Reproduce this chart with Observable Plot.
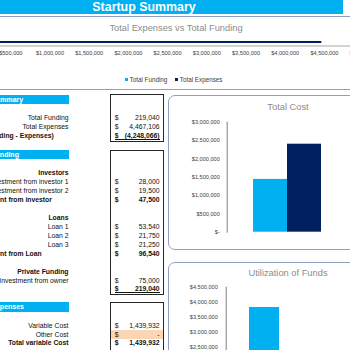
<!DOCTYPE html>
<html><head><meta charset="utf-8">
<script src="https://cdn.jsdelivr.net/npm/d3@7"></script>
<script src="https://cdn.jsdelivr.net/npm/@observablehq/plot@0.6"></script>
<style>
html,body{margin:0;padding:0;width:350px;height:350px;overflow:hidden;background:#fff;font-family:"Liberation Sans",Arial,sans-serif;}
#root{position:relative;width:350px;height:350px;overflow:hidden;}
#root svg{overflow:visible;max-width:none !important;}
</style></head><body>
<div id="root"></div>
<script>
// ---------- data ----------
const pageTitle = "Startup Summary";
const topChartTitle = "Total Expenses vs Total Funding";
const fundingCategories = ["Total Expenses", "Total Funding"];
const fundingValues = [4467106, 219040];
const legendLabels = ["Total Funding", "Total Expenses"];
const topTicks = [500000, 1000000, 1500000, 2000000, 2500000, 3000000, 3500000, 4000000, 4500000, 5000000];

const costTitle = "Total Cost";
const costCategories = ["Total Variable Cost", "Total Fixed Cost"];
const costValues = [1439932, 2400000];
const costTicks = [0, 500000, 1000000, 1500000, 2000000, 2500000, 3000000];

const utilTitle = "Utilization of Funds";
const utilCategories = ["Funds Utilized"];
const utilValues = [3820000];
const utilTicks = [0, 500000, 1000000, 1500000, 2000000, 2500000, 3000000, 3500000, 4000000, 4500000];

const sectionTitles = ["Summary", "Funding", "Expenses"];
const summaryLabels = ["Total Funding", "Total Expenses", "Total (Funding - Expenses)"];
const summaryValues = [219040, 4467106, -4248066];
const investorLabels = ["Investors", "Investment from investor 1", "Investment from investor 2", "Total Investment from investor"];
const investorValues = [null, 28000, 19500, 47500];
const loanLabels = ["Loans", "Loan 1", "Loan 2", "Loan 3", "Total Investment from Loan"];
const loanValues = [null, 53540, 21750, 21250, 96540];
const privateLabels = ["Private Funding", "Investment from owner", ""];
const privateValues = [null, 75000, 219040];
const expenseLabels = ["Variable Cost", "Other Cost", "Total variable Cost"];
const expenseValues = [1439932, 0, 1439932];

// ---------- helpers ----------
const LIGHT = "#00B0F0", NAVY = "#002060", BORDER = "#8EA0C2";
const root = document.getElementById("root");
function el(style, text) {
  const e = document.createElement("div");
  Object.assign(e.style, {position: "absolute", whiteSpace: "nowrap"}, style);
  if (text != null) e.textContent = text;
  root.appendChild(e);
  return e;
}
const px = v => v + "px";
const comma = d3.format(",");
const fmtAcc = v => v === 0 ? "-" : v < 0 ? "(" + comma(-v) + ")" : comma(v);
const fmtDollar = v => v === 0 ? "$-" : "$" + comma(v);
const FONT = "Liberation Sans, Arial, sans-serif";

// ---------- header ----------
el({left: "0px", top: "0px", width: "343px", height: "14px", background: LIGHT});
el({left: "0px", top: "0px", width: "343px", height: "14px", color: "#fff", fontWeight: "bold",
    fontSize: "12.4px", lineHeight: "14px", textAlign: "center", textIndent: "-55px"}, pageTitle);
el({left: "0px", top: "15.5px", width: "350px", height: "0px", borderTop: "1px solid " + BORDER});
el({left: "0px", top: "88.5px", width: "350px", height: "0px", borderTop: "1px solid " + BORDER});

// ---------- top chart ----------
el({left: "76px", top: "22px", width: "200px", textAlign: "center", fontSize: "9.3px", lineHeight: "12px", color: "#8C8C8C"}, topChartTitle);
const fundingData = fundingCategories.map((c, i) => ({cat: c, value: fundingValues[i]}));
const topPlot = Plot.plot({
  width: 424, height: 34, marginTop: 6, marginBottom: 22.5, marginLeft: 11.1, marginRight: 20.9,
  style: {fontFamily: FONT, color: "#404040", background: "transparent"},
  x: {domain: [0, 5000000], axis: null},
  y: {domain: fundingCategories, padding: 0, axis: null},
  color: {domain: legendLabels, range: [LIGHT, NAVY]},
  marks: [
    Plot.barX(fundingData, {x: "value", y: "cat", fill: d => d.cat}),
    Plot.frame({anchor: "bottom", stroke: "#C4C4C4", strokeWidth: 1.6}),
    Plot.axisX({ticks: topTicks, tickFormat: fmtDollar, tickSize: 0, tickPadding: 5, fontSize: 5.6, label: null})
  ]
});
const topWrap = el({left: "-40px", top: "34px", width: "424px", height: "34px"});
topWrap.appendChild(topPlot);

// legend
const leg = el({left: "125px", top: "75px", height: "8px", display: "flex", alignItems: "center", fontSize: "6.3px", color: "#404040"});
legendLabels.forEach((l, i) => {
  const sw = document.createElement("span");
  Object.assign(sw.style, {display: "inline-block", width: "3px", height: "3px", background: i === 0 ? LIGHT : NAVY, marginRight: "1.5px", marginLeft: i ? "8px" : "0"});
  const t = document.createElement("span");
  t.textContent = l;
  leg.appendChild(sw); leg.appendChild(t);
});

// ---------- left tables ----------
function header(top, text) {
  el({left: "0px", top: px(top), width: "69px", height: "9.6px", background: LIGHT});
  el({left: "-8.7px", top: px(top), height: "9.6px", lineHeight: "9.6px", fontSize: "7px", fontWeight: "bold", color: "#fff"}, text);
}
function box(top, bottom) {
  el({left: "109.5px", top: px(top), width: px(163.5 - 109.5 - 2), height: px(bottom - top), border: "1.3px solid #262626"});
}
// leftStart: when given, the label is left-aligned from that x (the cell overflows to the left edge)
function row(y, label, value, bold, underline, bg, leftStart) {
  if (bg) el({left: "111px", top: px(y - 4.5), width: "52px", height: "9px", background: bg});
  if (label) {
    const base = {top: px(y - 5), height: "10px", lineHeight: "10px", fontSize: "6.8px", fontWeight: bold ? "bold" : "normal", color: "#111"};
    if (leftStart != null) el(Object.assign({left: px(leftStart)}, base), label);
    else el(Object.assign({left: "-160px", width: "228.5px", textAlign: "right"}, base), label);
  }
  if (value != null) {
    el({left: "114.8px", top: px(y - 5), lineHeight: "10px", fontSize: "6.8px", fontWeight: bold ? "bold" : "normal", color: "#111"}, "$");
    el({left: "115px", width: "44.5px", top: px(y - 5), lineHeight: "10px", textAlign: "right", fontSize: "6.8px",
        fontWeight: bold ? "bold" : "normal", color: "#111"}, fmtAcc(value));
  }
  if (underline) el({left: "114.5px", top: px(y + 3), width: "45.5px", height: "0px", borderTop: "0.9px solid #111"});
}

header(94.5, sectionTitles[0]);
box(93.5, 139.5);
[118, 127, 136].forEach((y, i) => row(y, summaryLabels[i], summaryValues[i], i === 2, i === 2, null, i === 2 ? -33 : null));

header(149.8, sectionTitles[1]);
box(149.5, 292.5);
[172.6, 181.6, 190.6, 199.6].forEach((y, i) => row(y, investorLabels[i], investorValues[i], i === 0 || i === 3, false, null, i === 3 ? -47 : null));
[217.7, 226.7, 235.7, 244.7, 253.7].forEach((y, i) => row(y, loanLabels[i], loanValues[i], i === 0 || i === 4, false, null, i === 4 ? -47 : null));
[271.7, 280.7, 289].forEach((y, i) => row(y, privateLabels[i], privateValues[i], i !== 1, i === 2));

header(302.3, sectionTitles[2]);
box(301.7, 380);
[325.7, 334.5, 343.3].forEach((y, i) => row(y, expenseLabels[i], expenseValues[i], i === 2, false, i === 1 ? "#FCD5B4" : null));

// ---------- right panels ----------
function panel(top, title, titleTop, bottom) {
  el({left: "168px", top: px(top), width: "200px", height: px(bottom - top), border: "1.2px solid " + BORDER, borderRadius: "7px"});
  el({left: "188px", top: px(titleTop - 6), width: "200px", textAlign: "center", fontSize: "9.3px", lineHeight: "12px", color: "#8C8C8C"}, title);
}
panel(95, costTitle, 107.3, 247.5);
panel(261.7, utilTitle, 272.7, 420);

const costData = costCategories.map((c, i) => ({cat: c, value: costValues[i]}));
const costPlot = Plot.plot({
  width: 182, height: 152, marginTop: 25.7, marginBottom: 16.3, marginLeft: 58.7, marginRight: 20,
  style: {fontFamily: FONT, color: "#404040", background: "transparent"},
  x: {domain: costCategories, range: [84, 153.3], padding: 0, axis: null},
  y: {domain: [0, 3000000], axis: null},
  marks: [
    Plot.barY(costData, {x: "cat", y: "value", fill: (d, i) => i === 0 ? LIGHT : NAVY}),
    Plot.frame({anchor: "left", stroke: "#7F7F7F", strokeWidth: 1}),
    Plot.axisY({ticks: costTicks, tickFormat: fmtDollar, tickSize: 0, tickPadding: 7.4, fontSize: 5.6, label: null})
  ]
});
el({left: "168px", top: "96px", width: "182px", height: "152px"}).appendChild(costPlot);

const utilData = utilCategories.map((c, i) => ({cat: c, value: utilValues[i]}));
const utilPlot = Plot.plot({
  width: 182, height: 170, marginTop: 24.7, marginBottom: 11.2, marginLeft: 57.7, marginRight: 20,
  style: {fontFamily: FONT, color: "#404040", background: "transparent"},
  x: {domain: utilCategories, range: [80.3, 111], padding: 0, axis: null},
  y: {domain: [0, 4500000], axis: null},
  marks: [
    Plot.barY(utilData, {x: "cat", y: "value", fill: LIGHT}),
    Plot.frame({anchor: "left", stroke: "#7F7F7F", strokeWidth: 1}),
    Plot.axisY({ticks: utilTicks, tickFormat: fmtDollar, tickSize: 0, tickPadding: 8.4, fontSize: 5.6, label: null})
  ]
});
el({left: "168px", top: "262px", width: "182px", height: "170px"}).appendChild(utilPlot);
</script>
</body></html>
